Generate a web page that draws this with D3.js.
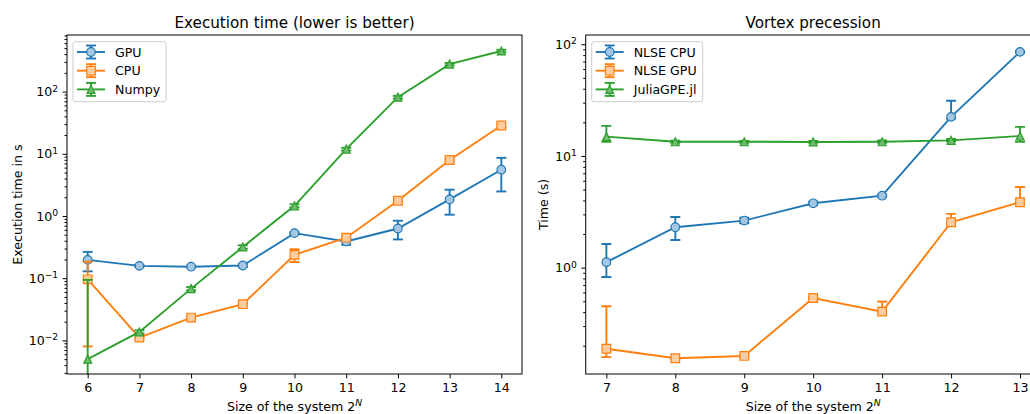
<!DOCTYPE html>
<html>
<head>
<meta charset="utf-8">
<script src="https://cdn.jsdelivr.net/npm/d3@7"></script>
<style>
  body { margin: 0; background: #fff; }
  svg { display: block; font-family: "DejaVu Sans", sans-serif; }
</style>
</head>
<body>
<svg id="chart" width="1030" height="414"></svg>
<script>
// ---- data ----
var sizesLeft = [6, 7, 8, 9, 10, 11, 12, 13, 14];
var gpuTime  = [0.197, 0.158, 0.153, 0.16, 0.53, 0.39, 0.63, 1.85, 5.55];
var gpuErr   = [0.068, 0.004, 0.004, 0.008, 0.02, 0.045, 0.21, 0.8, 3.07];
var cpuTime  = [0.096, 0.0111, 0.0233, 0.0382, 0.237, 0.448, 1.76, 7.95, 28.5];
var cpuErr   = [0.088, 0.0006, 0.001, 0.002, 0.055, 0.03, 0.12, 0.5, 1.8];
var numpyTime = [0.005, 0.0137, 0.068, 0.318, 1.46, 11.9, 81.5, 277, 450];
var numpyErr  = [0.089, 0.0008, 0.004, 0.02, 0.08, 0.6, 4, 12, 20];

var sizesRight = [7, 8, 9, 10, 11, 12, 13];
var nlseCpu   = [1.12, 2.3, 2.64, 3.77, 4.41, 22.4, 85.5];
var nlseCpuLo = [0.826, 1.77, 2.5, 3.66, 4.3, 21.6, 84];
var nlseCpuHi = [1.63, 2.84, 2.8, 3.9, 4.52, 31.2, 87];
var nlseGpu   = [0.188, 0.1545, 0.162, 0.535, 0.404, 2.55, 3.85];
var nlseGpuLo = [0.158, 0.152, 0.159, 0.525, 0.39, 2.45, 3.78];
var nlseGpuHi = [0.451, 0.157, 0.165, 0.545, 0.497, 3.03, 5.27];
var juliaGpe   = [14.9, 13.4, 13.4, 13.35, 13.4, 13.8, 15.1];
var juliaGpeLo = [13.4, 13.1, 13.15, 13.1, 13.1, 13.45, 13.4];
var juliaGpeHi = [18.6, 13.7, 13.65, 13.6, 13.75, 14.2, 18.2];

var BLUE = '#1f77b4', ORANGE = '#ff7f0e', GREEN = '#2ca02c';
// light marker faces
var FACES = {};
FACES[BLUE] = '#a5c6e0';
FACES[ORANGE] = '#ffcc9e';
FACES[GREEN] = '#72bb72';
var SIZES = {circle: 4.3, square: 4.3, triangle: 4.0};
var FONT = 12.6;

var svg = d3.select('#chart');

function symErr(vals, errs, sign) {
  return vals.map(function (v, i) { return v + sign * errs[i]; });
}

var leftSeries = [
  {name: 'GPU', x: sizesLeft, v: gpuTime, lo: symErr(gpuTime, gpuErr, -1), hi: symErr(gpuTime, gpuErr, 1), color: BLUE, marker: 'circle'},
  {name: 'CPU', x: sizesLeft, v: cpuTime, lo: symErr(cpuTime, cpuErr, -1), hi: symErr(cpuTime, cpuErr, 1), color: ORANGE, marker: 'square'},
  {name: 'Numpy', x: sizesLeft, v: numpyTime, lo: symErr(numpyTime, numpyErr, -1), hi: symErr(numpyTime, numpyErr, 1), color: GREEN, marker: 'triangle'},
];
var rightSeries = [
  {name: 'NLSE CPU', x: sizesRight, v: nlseCpu, lo: nlseCpuLo, hi: nlseCpuHi, color: BLUE, marker: 'circle'},
  {name: 'NLSE GPU', x: sizesRight, v: nlseGpu, lo: nlseGpuLo, hi: nlseGpuHi, color: ORANGE, marker: 'square'},
  {name: 'JuliaGPE.jl', x: sizesRight, v: juliaGpe, lo: juliaGpeLo, hi: juliaGpeHi, color: GREEN, marker: 'triangle'},
];

var panels = [
  {id: 'left', title: 'Execution time (lower is better)', ylabel: 'Execution time in s',
   x0: 67, x1: 522, top: 35, bottom: 374, xdom: [5.6, 14.4], ydom: [Math.pow(10, -2.54), Math.pow(10, 2.91)],
   xticks: sizesLeft, ylabelX: 21.5, series: leftSeries},
  {id: 'right', title: 'Vortex precession', ylabel: 'Time (s)',
   x0: 585.7, x1: 1040.7, top: 35, bottom: 374, xdom: [6.7, 13.3], ydom: [Math.pow(10, -0.952), Math.pow(10, 2.083)],
   xticks: sizesRight, ylabelX: 547.5, series: rightSeries},
];

function markerPath(type, r) {
  if (type === 'circle') {
    return 'M' + (-r) + ',0A' + r + ',' + r + ' 0 1,0 ' + r + ',0A' + r + ',' + r + ' 0 1,0 ' + (-r) + ',0Z';
  }
  if (type === 'square') {
    return 'M' + (-r) + ',' + (-r) + 'H' + r + 'V' + r + 'H' + (-r) + 'Z';
  }
  return 'M0,' + (-r) + 'L' + r + ',' + r + 'L' + (-r) + ',' + r + 'Z';
}

// write "10^k" as mathtext-like label
function powLabel(sel, d) {
  var k = Math.round(Math.log10(d));
  sel.text('');
  sel.append('tspan').text('10');
  sel.append('tspan').attr('font-size', 9.2).attr('dy', -4.6)
    .text(k < 0 ? '\u2212' + (-k) : String(k));
}

function drawMarker(sel, s) {
  return sel.attr('d', markerPath(s.marker, SIZES[s.marker]))
    .attr('fill', FACES[s.color])
    .attr('stroke', s.color).attr('stroke-width', 1.2);
}

function drawPanel(p) {
  var x = d3.scaleLinear().domain(p.xdom).range([p.x0, p.x1]);
  var y = d3.scaleLog().domain(p.ydom).range([p.bottom, p.top]);
  var g = svg.append('g').attr('class', p.id);

  g.append('clipPath').attr('id', 'clip-' + p.id)
    .append('rect').attr('x', p.x0).attr('y', p.top)
    .attr('width', p.x1 - p.x0).attr('height', p.bottom - p.top);

  // major / minor log ticks
  var lo = Math.floor(Math.log10(p.ydom[0])), hi = Math.ceil(Math.log10(p.ydom[1]));
  var majors = [], minors = [];
  for (var k = lo; k <= hi; k++) {
    var base = Math.pow(10, k);
    if (base >= p.ydom[0] && base <= p.ydom[1]) majors.push(base);
    for (var m = 2; m <= 9; m++) {
      var t = m * base;
      if (t >= p.ydom[0] && t <= p.ydom[1]) minors.push(t);
    }
  }

  var yMinor = g.append('g').attr('transform', 'translate(' + p.x0 + ',0)')
    .call(d3.axisLeft(y).tickValues(minors).tickSize(2.5).tickSizeOuter(0).tickFormat(''));
  var yMajor = g.append('g').attr('transform', 'translate(' + p.x0 + ',0)')
    .call(d3.axisLeft(y).tickValues(majors).tickSize(4.4).tickSizeOuter(0).tickPadding(4.4));
  yMajor.selectAll('.tick text').each(function (d) { powLabel(d3.select(this), d); })
    .attr('dy', '0.32em');

  var xAx = g.append('g').attr('transform', 'translate(0,' + p.bottom + ')')
    .call(d3.axisBottom(x).tickValues(p.xticks).tickSize(4.4).tickSizeOuter(0).tickPadding(4.4).tickFormat(d3.format('d')));

  [yMinor, yMajor, xAx].forEach(function (a) {
    a.select('.domain').remove();
    a.selectAll('line').attr('stroke', '#000').attr('stroke-width', 1);
    a.selectAll('text').attr('font-family', '"DejaVu Sans", sans-serif')
      .attr('font-size', FONT).attr('fill', '#000');
  });

  // series
  var plot = g.append('g').attr('clip-path', 'url(#clip-' + p.id + ')');
  var line = d3.line().x(function (d) { return x(d[0]); }).y(function (d) { return y(d[1]); });

  p.series.forEach(function (s) {
    var sg = plot.append('g');
    var pts = s.x.map(function (xv, i) { return [xv, s.v[i]]; });
    sg.append('path').attr('d', line(pts)).attr('fill', 'none')
      .attr('stroke', s.color).attr('stroke-width', 1.9);

    s.x.forEach(function (xv, i) {
      var cx = x(xv);
      var yTop = y(s.hi[i]);
      // non-positive lower bound: matplotlib runs the bar off the bottom of the axes
      var yBot = s.lo[i] > 0 ? y(s.lo[i]) : p.bottom + 20;
      sg.append('line').attr('x1', cx).attr('x2', cx).attr('y1', yTop).attr('y2', yBot)
        .attr('stroke', s.color).attr('stroke-width', 1.9);
      sg.append('line').attr('x1', cx - 5).attr('x2', cx + 5).attr('y1', yTop).attr('y2', yTop)
        .attr('stroke', s.color).attr('stroke-width', 1.9);
      if (s.lo[i] > 0) {
        sg.append('line').attr('x1', cx - 5).attr('x2', cx + 5).attr('y1', yBot).attr('y2', yBot)
          .attr('stroke', s.color).attr('stroke-width', 1.9);
      }
    });

    sg.selectAll('path.mk').data(pts).enter().append('path').attr('class', 'mk')
      .attr('transform', function (d) { return 'translate(' + x(d[0]) + ',' + y(d[1]) + ')'; })
      .call(drawMarker, s);
  });

  // frame
  g.append('rect').attr('x', p.x0).attr('y', p.top)
    .attr('width', p.x1 - p.x0).attr('height', p.bottom - p.top)
    .attr('fill', 'none').attr('stroke', '#000').attr('stroke-width', 1);

  // titles and labels
  var cx = (p.x0 + p.x1) / 2;
  g.append('text').attr('x', cx).attr('y', 27.7).attr('text-anchor', 'middle')
    .attr('font-size', 15.2).text(p.title);

  var xl = g.append('text').attr('x', cx).attr('y', 411).attr('text-anchor', 'middle')
    .attr('font-size', FONT);
  xl.append('tspan').text('Size of the system 2');
  xl.append('tspan').attr('font-size', 9.2).attr('dy', -5).attr('font-style', 'italic').text('N');

  g.append('text')
    .attr('transform', 'translate(' + p.ylabelX + ',' + ((p.top + p.bottom) / 2) + ') rotate(-90)')
    .attr('text-anchor', 'middle').attr('font-size', FONT).text(p.ylabel);

  // legend
  var lx = p.x0 + 6, ly = p.top + 6.7, rowH = 18.7;
  var leg = g.append('g');
  var box = leg.append('rect').attr('x', lx).attr('y', ly).attr('height', 60)
    .attr('rx', 2.5).attr('fill', '#fff').attr('fill-opacity', 0.8)
    .attr('stroke', '#ccc').attr('stroke-width', 1);
  var maxW = 0;
  p.series.forEach(function (s, i) {
    var cy = ly + 10.3 + i * rowH;
    var hx0 = lx + 4, hx1 = lx + 32, hm = (hx0 + hx1) / 2;
    leg.append('line').attr('x1', hx0).attr('x2', hx1).attr('y1', cy).attr('y2', cy)
      .attr('stroke', s.color).attr('stroke-width', 1.9);
    leg.append('line').attr('x1', hm).attr('x2', hm).attr('y1', cy - 6.5).attr('y2', cy + 6.5)
      .attr('stroke', s.color).attr('stroke-width', 1.9);
    [cy - 6.5, cy + 6.5].forEach(function (yy) {
      leg.append('line').attr('x1', hm - 5).attr('x2', hm + 5).attr('y1', yy).attr('y2', yy)
        .attr('stroke', s.color).attr('stroke-width', 1.9);
    });
    leg.append('path').attr('transform', 'translate(' + hm + ',' + cy + ')')
      .call(drawMarker, s);
    var t = leg.append('text').attr('x', lx + 42).attr('y', cy + 4.5)
      .attr('font-size', FONT).text(s.name);
    maxW = Math.max(maxW, t.node().getComputedTextLength());
  });
  box.attr('width', 42 + maxW + 6);
}

panels.forEach(drawPanel);
</script>
</body>
</html>
